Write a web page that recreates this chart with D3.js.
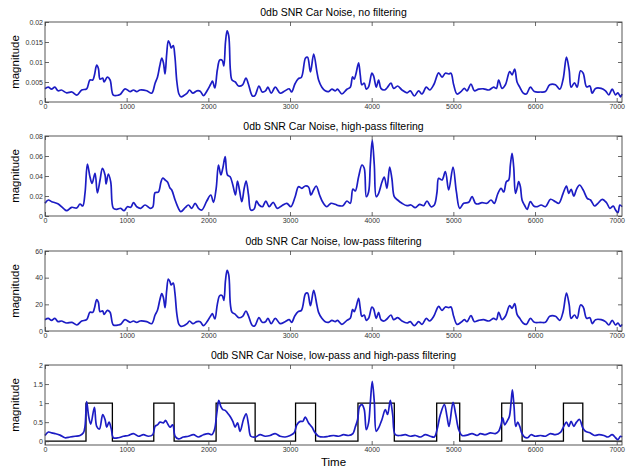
<!DOCTYPE html>
<html>
<head>
<meta charset="utf-8">
<script src="https://cdn.jsdelivr.net/npm/d3@7"></script>
<style>
	body { margin: 0; background: #fff; }
	svg { display: block; }
	.tick text { fill: #333; }
</style>
</head>
<body>
<div data-chart></div>
<script>
const dimensions = {
	width: 627,
	height: 467,
	left: 45,
	right: 622,
	panelHeight: 80,
	panelTops: [22, 136, 251, 365]
}

const xMax = 7065
const xTicks = [0, 1000, 2000, 3000, 4000, 5000, 6000, 7000]

const titles = [
	'0db SNR Car Noise, no filtering',
	'0db SNR Car Noise, high-pass filtering',
	'0db SNR Car Noise, low-pass filtering',
	'0db SNR Car Noise, low-pass and high-pass filtering'
]

/* Panels 1 and 3 (no filtering, low-pass) */
const timeA = [0, 40, 80, 120, 160, 200, 265, 330, 390, 450, 510, 550, 585, 605, 633, 654, 674, 707, 723, 764,
	797, 837, 899, 927, 980, 1042, 1083, 1123, 1164, 1246, 1307, 1348, 1377, 1405, 1430, 1450, 1470, 1490, 1510, 1530,
	1545, 1570, 1590, 1615, 1640, 1665, 1700, 1740, 1770, 1810, 1860, 1900, 1940, 1990, 2030, 2050, 2080, 2110, 2140, 2170,
	2190, 2210, 2230, 2250, 2270, 2290, 2330, 2370, 2420, 2460, 2490, 2540, 2570, 2620, 2660, 2700, 2730, 2770, 2820, 2880,
	2940, 2990, 3020, 3060, 3100, 3140, 3190, 3215, 3250, 3290, 3329, 3350, 3390, 3431, 3472, 3513, 3554, 3582, 3635, 3697,
	3738, 3766, 3786, 3807, 3840, 3860, 3880, 3909, 3934, 3962, 4003, 4024, 4056, 4085, 4113, 4154, 4187, 4236, 4269, 4318,
	4371, 4433, 4473, 4522, 4575, 4616, 4669, 4710, 4760, 4820, 4861, 4902, 4943, 4971, 5004, 5045, 5094, 5135, 5167, 5216,
	5257, 5310, 5371, 5433, 5494, 5527, 5555, 5596, 5637, 5690, 5719, 5751, 5780, 5813, 5853, 5894, 5943, 5992, 6066, 6127,
	6180, 6250, 6303, 6344, 6385, 6418, 6442, 6483, 6516, 6557, 6590, 6631, 6672, 6700, 6741, 6810, 6863, 6904, 6945, 6986,
	7015, 7047, 7065]

const noFilter = [0.0033, 0.0037, 0.0032, 0.0037, 0.0028, 0.0030, 0.0023, 0.0025, 0.0017, 0.0030, 0.0033, 0.0055, 0.0055, 0.0067, 0.0092, 0.0084, 0.0057, 0.0060, 0.0050, 0.0062,
	0.0055, 0.0017, 0.0017, 0.0020, 0.0033, 0.0026, 0.0030, 0.0026, 0.0030, 0.0028, 0.0022, 0.0047, 0.0062, 0.0090, 0.0110, 0.0098, 0.0070, 0.0120, 0.0153, 0.0145,
	0.0135, 0.0141, 0.0115, 0.0050, 0.0020, 0.0013, 0.0016, 0.0022, 0.0030, 0.0022, 0.0028, 0.0027, 0.0016, 0.0030, 0.0045, 0.0052, 0.0035, 0.0080, 0.0105, 0.0104,
	0.0090, 0.0150, 0.0178, 0.0165, 0.0080, 0.0055, 0.0050, 0.0040, 0.0043, 0.0060, 0.0045, 0.0015, 0.0016, 0.0040, 0.0025, 0.0028, 0.0037, 0.0022, 0.0037, 0.0022,
	0.0028, 0.0033, 0.0025, 0.0045, 0.0058, 0.0062, 0.0110, 0.0112, 0.0075, 0.0120, 0.0076, 0.0055, 0.0037, 0.0028, 0.0026, 0.0032, 0.0028, 0.0032, 0.0020, 0.0032,
	0.0037, 0.0063, 0.0057, 0.0070, 0.0098, 0.0068, 0.0043, 0.0047, 0.0032, 0.0038, 0.0072, 0.0065, 0.0037, 0.0055, 0.0034, 0.0030, 0.0035, 0.0047, 0.0034, 0.0040,
	0.0030, 0.0023, 0.0028, 0.0015, 0.0028, 0.0020, 0.0037, 0.0030, 0.0043, 0.0073, 0.0062, 0.0072, 0.0070, 0.0072, 0.0043, 0.0020, 0.0026, 0.0034, 0.0028, 0.0045,
	0.0028, 0.0032, 0.0033, 0.0030, 0.0037, 0.0034, 0.0055, 0.0034, 0.0043, 0.0076, 0.0068, 0.0082, 0.0050, 0.0037, 0.0023, 0.0020, 0.0037, 0.0026, 0.0025, 0.0026,
	0.0043, 0.0043, 0.0032, 0.0057, 0.0112, 0.0080, 0.0037, 0.0048, 0.0037, 0.0078, 0.0072, 0.0038, 0.0040, 0.0022, 0.0034, 0.0034, 0.0028, 0.0018, 0.0032, 0.0018,
	0.0023, 0.0013, 0.0020]

const lowPass = [8.5, 9.5, 8, 9.5, 7, 7.5, 6, 6.5, 4.5, 7.5, 8.5, 14, 14, 17, 23.5, 21.5, 14.5, 15, 12.5, 15.5,
	14, 4.5, 4.5, 5, 8.5, 6.5, 7.5, 6.5, 7.5, 7, 5.5, 12, 15.5, 23, 28, 25, 17.5, 30.5, 39, 37,
	34.5, 36, 29, 12.5, 5, 3.5, 4, 5.5, 7.5, 5.5, 7, 7, 4, 7.5, 11.5, 13, 9, 20, 26.5, 26.5,
	23, 38, 45.5, 42, 20, 14, 12.5, 10, 11, 15, 11.5, 4, 4, 10, 6.5, 7, 9.5, 5.5, 9.5, 5.5,
	7, 8.5, 6.5, 11.5, 14.5, 15.5, 28, 28.5, 19, 30.5, 19.5, 14, 9.5, 7, 6.5, 8, 7, 8, 5, 8,
	9.5, 16, 14.5, 17.5, 24.5, 17, 11, 12, 8, 9.5, 18, 16.5, 9.5, 14, 8.5, 7.5, 9, 12, 8.5, 10,
	7.5, 6, 7, 4, 7, 5, 9.5, 7.5, 11, 18.5, 15.5, 18, 17.5, 18, 11, 5, 6.5, 8.5, 7, 11.5,
	7, 8, 8.5, 7.5, 9.5, 8.5, 14, 8.5, 11, 19, 17, 20.5, 12.5, 9.5, 6, 5, 9.5, 6.5, 6.5, 6.5,
	11, 11, 8, 14.5, 28.5, 20, 9.5, 12, 9.5, 19.5, 18, 9.5, 10, 5.5, 8.5, 8.5, 7, 4.5, 8, 4.5,
	6, 3.5, 5]

/* Panel 2 (high-pass) */
const timeB = [0, 41, 82, 123, 163, 225, 265, 327, 388, 429, 462, 490, 519, 551, 576, 613, 641, 674, 703, 735,
	748, 776, 805, 837, 878, 927, 968, 1009, 1050, 1083, 1123, 1172, 1225, 1287, 1320, 1348, 1389, 1420, 1442, 1471,
	1500, 1530, 1552, 1593, 1634, 1663, 1716, 1756, 1797, 1838, 1879, 1920, 1981, 2030, 2063, 2096, 2124, 2153, 2177, 2206,
	2234, 2267, 2300, 2332, 2357, 2381, 2410, 2439, 2463, 2492, 2520, 2561, 2590, 2622, 2663, 2704, 2745, 2794, 2843, 2900,
	2961, 3010, 3063, 3104, 3145, 3186, 3227, 3256, 3288, 3321, 3362, 3402, 3451, 3500, 3554, 3595, 3648, 3697, 3738, 3770,
	3799, 3840, 3881, 3909, 3934, 3962, 3983, 4007, 4032, 4056, 4085, 4126, 4154, 4187, 4220, 4248, 4277, 4318, 4371, 4432,
	4481, 4534, 4587, 4636, 4677, 4726, 4767, 4800, 4820, 4861, 4902, 4943, 4996, 5037, 5078, 5127, 5188, 5229, 5270, 5298,
	5351, 5412, 5461, 5502, 5543, 5584, 5617, 5649, 5678, 5698, 5719, 5739, 5760, 5780, 5800, 5821, 5841, 5870, 5903, 5943,
	5984, 6025, 6075, 6128, 6189, 6250, 6291, 6344, 6385, 6413, 6442, 6475, 6508, 6545, 6590, 6639, 6680, 6729, 6770, 6823,
	6876, 6917, 6958, 6986, 7015, 7039, 7065]

const highPass = [0.0127, 0.016, 0.0143, 0.0133, 0.012, 0.0077, 0.0053, 0.0087, 0.008, 0.012, 0.010, 0.023, 0.052, 0.039, 0.0327, 0.0427, 0.023, 0.036, 0.0477, 0.041,
	0.032, 0.042, 0.034, 0.0077, 0.0067, 0.0077, 0.0053, 0.0093, 0.0087, 0.0133, 0.0093, 0.0077, 0.011, 0.0077, 0.009, 0.0233, 0.024, 0.034, 0.038, 0.036,
	0.034, 0.028, 0.026, 0.016, 0.0077, 0.0043, 0.0083, 0.011, 0.0077, 0.0127, 0.0077, 0.006, 0.015, 0.021, 0.0137, 0.0277, 0.051, 0.041, 0.0477, 0.0593,
	0.041, 0.0393, 0.031, 0.021, 0.035, 0.026, 0.0143, 0.0277, 0.035, 0.021, 0.006, 0.007, 0.015, 0.011, 0.0093, 0.015, 0.0093, 0.0137, 0.0077, 0.0103,
	0.0127, 0.0093, 0.0193, 0.0293, 0.0277, 0.030, 0.029, 0.021, 0.026, 0.030, 0.021, 0.0137, 0.0093, 0.0127, 0.0117, 0.0103, 0.0103, 0.015, 0.0127, 0.027,
	0.025, 0.0393, 0.051, 0.0477, 0.0193, 0.024, 0.051, 0.076, 0.051, 0.0193, 0.0227, 0.034, 0.039, 0.0277, 0.049, 0.037, 0.0193, 0.016, 0.0127, 0.0103,
	0.011, 0.0083, 0.0117, 0.0103, 0.015, 0.0093, 0.011, 0.024, 0.0377, 0.036, 0.0443, 0.026, 0.049, 0.0243, 0.0077, 0.0127, 0.0137, 0.0193, 0.0127, 0.012,
	0.0133, 0.0127, 0.016, 0.0127, 0.022, 0.0277, 0.024, 0.0343, 0.036, 0.051, 0.0627, 0.049, 0.0227, 0.0277, 0.0343, 0.0293, 0.016, 0.011, 0.0067, 0.0143,
	0.010, 0.0093, 0.011, 0.0093, 0.0167, 0.0143, 0.0127, 0.0227, 0.030, 0.0227, 0.0267, 0.020, 0.0267, 0.031, 0.026, 0.0177, 0.016, 0.010, 0.0127, 0.0167,
	0.0133, 0.0077, 0.010, 0.006, 0.0033, 0.011, 0.0093]

/* Panel 4 (low-pass and high-pass) */
const timeC = [0, 41, 82, 123, 184, 245, 306, 368, 429, 470, 490, 510, 535, 560, 605, 633, 666, 707, 735, 756,
	784, 812, 837, 899, 960, 1021, 1083, 1144, 1205, 1266, 1319, 1348, 1377, 1409, 1450, 1475, 1491, 1532, 1564, 1593,
	1634, 1695, 1756, 1818, 1879, 1940, 2001, 2042, 2075, 2104, 2128, 2153, 2177, 2206, 2234, 2267, 2300, 2328, 2357, 2389,
	2430, 2463, 2492, 2520, 2574, 2635, 2696, 2757, 2818, 2880, 2941, 3002, 3051, 3084, 3125, 3157, 3186, 3227, 3268, 3308,
	3349, 3411, 3472, 3533, 3595, 3656, 3717, 3770, 3799, 3828, 3852, 3881, 3909, 3934, 3962, 3983, 4007, 4032, 4056, 4085,
	4126, 4167, 4195, 4228, 4257, 4289, 4350, 4412, 4473, 4534, 4596, 4657, 4718, 4767, 4800, 4841, 4890, 4922, 4947, 4996,
	5029, 5066, 5107, 5168, 5229, 5290, 5331, 5392, 5453, 5514, 5555, 5584, 5604, 5629, 5657, 5686, 5706, 5723, 5743, 5764,
	5788, 5813, 5837, 5870, 5911, 5951, 6005, 6066, 6128, 6189, 6250, 6311, 6352, 6385, 6413, 6442, 6475, 6508, 6545, 6585,
	6618, 6672, 6729, 6782, 6843, 6892, 6945, 6986, 7015, 7047, 7065]

const bothFilters = [0.15, 0.24, 0.22, 0.20, 0.16, 0.09, 0.11, 0.13, 0.15, 0.22, 0.39, 1.04, 0.65, 0.45, 0.89, 0.39, 0.32, 0.70, 0.57, 0.37,
	0.50, 0.32, 0.09, 0.09, 0.13, 0.15, 0.20, 0.13, 0.17, 0.13, 0.17, 0.39, 0.43, 0.50, 0.48, 0.55, 0.50, 0.37, 0.43, 0.13,
	0.06, 0.11, 0.13, 0.17, 0.11, 0.17, 0.20, 0.17, 0.30, 0.74, 1.07, 0.91, 0.83, 0.81, 0.74, 0.65, 0.52, 0.37, 0.48, 0.26,
	0.57, 0.72, 0.43, 0.13, 0.11, 0.17, 0.13, 0.15, 0.20, 0.13, 0.11, 0.15, 0.22, 0.43, 0.52, 0.52, 0.63, 0.48, 0.37, 0.22,
	0.13, 0.11, 0.13, 0.15, 0.13, 0.17, 0.15, 0.20, 0.37, 0.57, 0.91, 0.96, 0.83, 0.30, 0.48, 1.0, 1.57, 1.04, 0.26, 0.35,
	0.57, 0.83, 0.70, 1.07, 0.70, 0.17, 0.15, 0.17, 0.13, 0.15, 0.11, 0.17, 0.13, 0.11, 0.30, 0.70, 0.96, 0.65, 0.39, 1.02,
	0.70, 0.30, 0.15, 0.16, 0.20, 0.15, 0.20, 0.17, 0.22, 0.20, 0.26, 0.43, 0.61, 0.43, 0.52, 0.65, 1.0, 1.35, 0.91, 0.39,
	0.50, 0.39, 0.22, 0.11, 0.09, 0.17, 0.13, 0.15, 0.13, 0.20, 0.17, 0.23, 0.39, 0.50, 0.39, 0.52, 0.39, 0.50, 0.57, 0.35,
	0.26, 0.22, 0.15, 0.17, 0.15, 0.11, 0.17, 0.09, 0.04, 0.13, 0.11]

/* Speech activity (black square wave in panel 4) */
const speechOn = [502, 1332, 2095, 3068, 3832, 4796, 5592, 6348]
const speechOff = [825, 1581, 2573, 3313, 4277, 5078, 5842, 6585]

const yDomains = [[0, 0.02], [0, 0.08], [0, 60], [-0.1, 2]]
const yTicks = [
	[0, 0.005, 0.01, 0.015, 0.02],
	[0, 0.02, 0.04, 0.06, 0.08],
	[0, 20, 40, 60],
	[0, 0.5, 1, 1.5, 2]
]

const series = [
	{ t: timeA, v: noFilter },
	{ t: timeB, v: highPass },
	{ t: timeA, v: lowPass },
	{ t: timeC, v: bothFilters }
]

const font = 'Liberation Sans, Arial, sans-serif'

const svg = d3.select('[data-chart]')
	.append('svg')
	.attr('width', dimensions.width)
	.attr('height', dimensions.height)

const xScale = d3.scaleLinear()
	.domain([0, xMax])
	.range([dimensions.left, dimensions.right])

const styleAxis = (g) => {
	g.select('.domain').remove()
	g.selectAll('.tick line').attr('stroke', '#444').attr('stroke-width', 0.8)
	g.selectAll('.tick text')
		.attr('font-family', font)
		.attr('font-size', 7)
}

series.forEach((s, i) => {
	const top = dimensions.panelTops[i]
	const bottom = top + dimensions.panelHeight

	const yScale = d3.scaleLinear()
		.domain(yDomains[i])
		.range([bottom, top])

	const panel = svg.append('g')

	/* Lines */
	const data = s.t.map((t, j) => ({ t, v: s.v[j] }))

	const lineGenerator = d3.line()
		.x((d) => xScale(d.t))
		.y((d) => yScale(d.v))
		.curve(d3.curveCatmullRom.alpha(0.5))

	if (i === 3) {
		const steps = [{ t: 0, v: 0 }]
		speechOn.forEach((on, j) => {
			steps.push({ t: on, v: 1 })
			steps.push({ t: speechOff[j], v: 0 })
		})
		steps.push({ t: xMax, v: 0 })

		panel.append('path')
			.datum(steps)
			.attr('d', d3.line()
				.x((d) => xScale(d.t))
				.y((d) => yScale(d.v))
				.curve(d3.curveStepAfter))
			.attr('fill', 'none')
			.attr('stroke', '#000')
			.attr('stroke-width', 1.3)
	}

	panel.append('path')
		.datum(data)
		.attr('d', lineGenerator)
		.attr('fill', 'none')
		.attr('stroke', '#1c1cc4')
		.attr('stroke-width', 1.7)
		.attr('stroke-linejoin', 'round')

	/* Axes */
	panel.append('g')
		.attr('transform', `translate(0, ${bottom})`)
		.call(d3.axisBottom(xScale).tickValues(xTicks).tickSizeInner(-4).tickSizeOuter(0).tickPadding(2.5).tickFormat(d3.format('d')))
		.call(styleAxis)

	panel.append('g')
		.attr('transform', `translate(0, ${top})`)
		.call(d3.axisTop(xScale).tickValues(xTicks).tickSizeInner(-4).tickSizeOuter(0).tickFormat(''))
		.call(styleAxis)

	panel.append('g')
		.attr('transform', `translate(${dimensions.left}, 0)`)
		.call(d3.axisLeft(yScale).tickValues(yTicks[i]).tickSizeInner(-4).tickSizeOuter(0).tickPadding(2).tickFormat(d3.format('~g')))
		.call(styleAxis)

	panel.append('g')
		.attr('transform', `translate(${dimensions.right}, 0)`)
		.call(d3.axisRight(yScale).tickValues(yTicks[i]).tickSizeInner(-4).tickSizeOuter(0).tickFormat(''))
		.call(styleAxis)

	panel.append('rect')
		.attr('x', dimensions.left)
		.attr('y', top)
		.attr('width', dimensions.right - dimensions.left)
		.attr('height', dimensions.panelHeight)
		.attr('fill', 'none')
		.attr('stroke', '#444')
		.attr('stroke-width', 0.9)

	/* Labels */
	panel.append('text')
		.attr('x', (dimensions.left + dimensions.right) / 2)
		.attr('y', top - 6)
		.attr('text-anchor', 'middle')
		.attr('font-family', font)
		.attr('font-size', 10.5)
		.text(titles[i])

	panel.append('text')
		.attr('transform', `translate(19, ${top + dimensions.panelHeight / 2}) rotate(-90)`)
		.attr('text-anchor', 'middle')
		.attr('font-family', font)
		.attr('font-size', 11.5)
		.text('magnitude')
})

svg.append('text')
	.attr('x', (dimensions.left + dimensions.right) / 2)
	.attr('y', 466)
	.attr('text-anchor', 'middle')
	.attr('font-family', font)
	.attr('font-size', 11.5)
	.text('Time')
</script>
</body>
</html>
